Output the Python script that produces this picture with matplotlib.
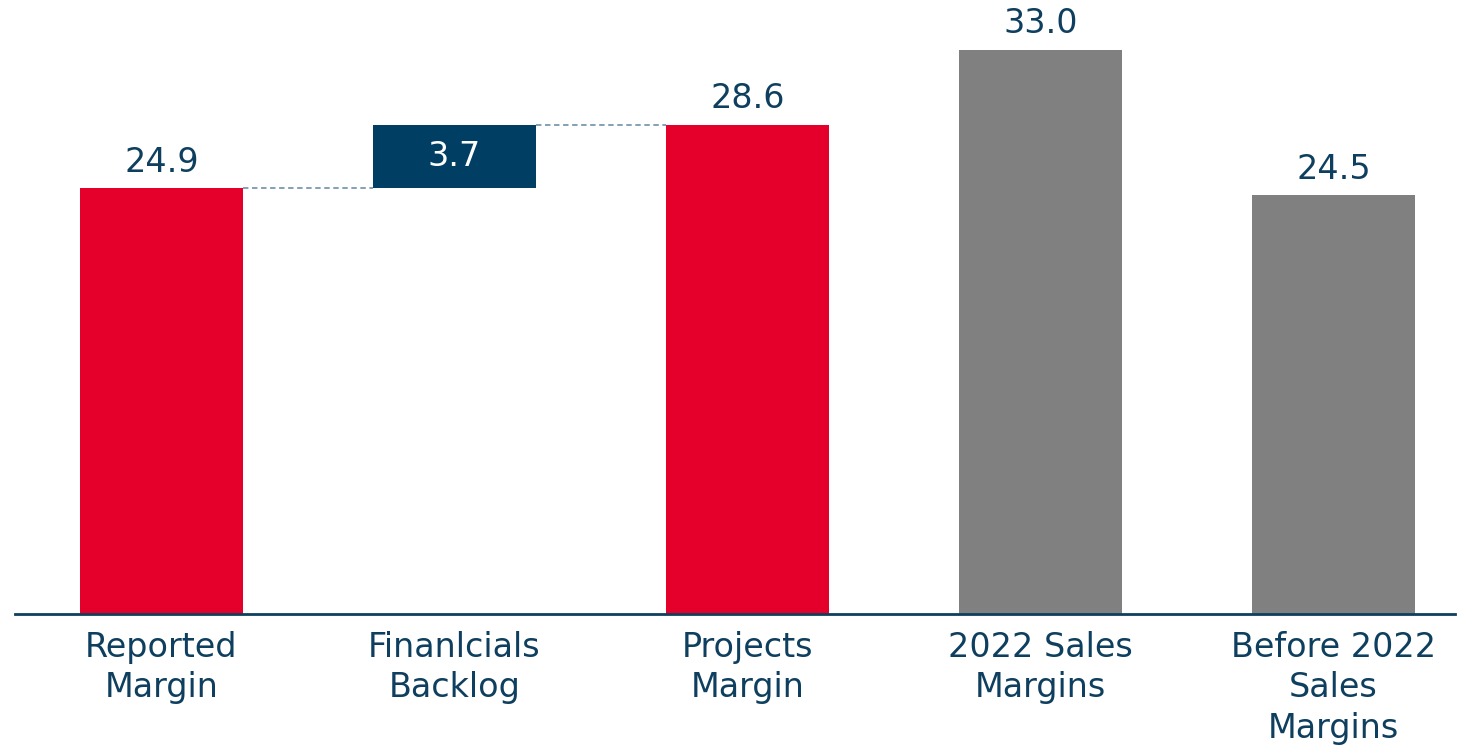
import matplotlib.pyplot as plt

categories = ["Reported\nMargin", "Finanlcials\nBacklog", "Projects\nMargin",
              "2022 Sales\nMargins", "Before 2022\nSales\nMargins"]
values = [24.9, 3.7, 28.6, 33.0, 24.5]
bottoms = [0, 24.9, 0, 0, 0]
labels = ["24.9", "3.7", "28.6", "33.0", "24.5"]

RED = "#E4002B"
NAVY = "#003F63"
GRAY = "#808080"
TEXT = "#0E3F5E"
DASH = "#7A98AE"

plt.rcParams['font.family'] = ['DejaVu Sans']

fig = plt.figure(figsize=(14.58, 7.5), dpi=100)
ax = fig.add_axes([15 / 1458, 136 / 750, 1440 / 1458, 614 / 750])

x = list(range(len(categories)))
colors = [RED, NAVY, RED, GRAY, GRAY]
width = 0.556
ax.bar(x, values, bottom=bottoms, width=width, color=colors, zorder=2)

# connectors between the waterfall steps
tops = [b + v for b, v in zip(bottoms, values)]
ax.plot([0 + width / 2, 1 - width / 2], [tops[0], tops[0]], ls=(0, (3, 2)),
        color=DASH, lw=1.3, zorder=1)
ax.plot([1 + width / 2, 2 - width / 2], [tops[1], tops[1]], ls=(0, (3, 2)),
        color=DASH, lw=1.3, zorder=1)

for i, (b, v, lab) in enumerate(zip(bottoms, values, labels)):
    if b > 0:
        ax.text(i, b + v / 2, lab, ha="center", va="center", color="white", fontsize=24)
    else:
        ax.text(i, b + v + 0.55, lab, ha="center", va="bottom", color=TEXT, fontsize=24)

ax.set_xlim(-0.5, 4.415)
ax.set_ylim(0, 35.9)
ax.set_xticks(x)
ax.set_xticklabels(categories, fontsize=24, color=TEXT, linespacing=1.3)
ax.tick_params(axis="x", length=0, pad=12)
ax.set_yticks([])
for s in ["top", "right", "left"]:
    ax.spines[s].set_visible(False)
ax.spines["bottom"].set_color(TEXT)
ax.spines["bottom"].set_linewidth(2)

fig.savefig("out.png", dpi=100)
